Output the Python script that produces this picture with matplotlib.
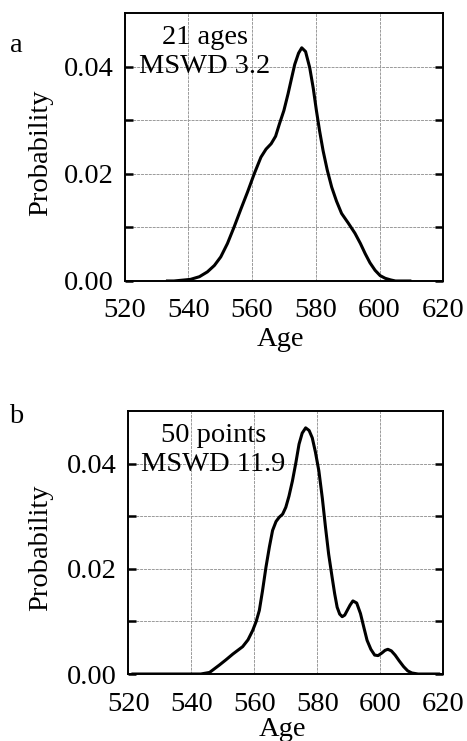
import matplotlib
matplotlib.use("Agg")
import matplotlib.pyplot as plt

plt.rcParams['font.family'] = ['Liberation Serif', 'DejaVu Serif']

# Probability-density curve, panel a (21 ages)
age_a = [533, 535.5, 540.7, 543.5, 546, 548.2, 550.2, 552.3, 554.4, 556.5, 558.6,
         560.7, 562.8, 564.4, 566, 567.4, 568.6, 570, 571.3, 572.4, 573.4, 574.6,
         575.6, 576.8, 578.1, 579.2, 580.2, 581.2, 582.3, 583.6, 585, 586.5, 588.1,
         590.2, 592.3, 594, 595.5, 597, 598.6, 600.2, 601.8, 603.5, 605, 610]
prob_a = [0.0, 0.0, 0.0003, 0.0008, 0.0017, 0.0029, 0.0045, 0.0070, 0.0101, 0.0134,
          0.0166, 0.0200, 0.0231, 0.0246, 0.0256, 0.0270, 0.0293, 0.0318, 0.0349,
          0.0378, 0.0404, 0.0425, 0.0435, 0.0428, 0.0398, 0.0360, 0.0318, 0.0280,
          0.0243, 0.0207, 0.0175, 0.0149, 0.0126, 0.0108, 0.0089, 0.0070, 0.0051,
          0.0034, 0.0020, 0.0010, 0.0005, 0.0002, 0.0, 0.0]

# Probability-density curve, panel b (50 points)
age_b = [521, 543, 545.8, 548.9, 551, 553.2, 556.3, 558, 559.5, 560.6, 561.6, 562.6,
         563.7, 564.8, 565.8, 566.9, 567.9, 569, 570, 571, 572.1, 573.2, 574.2, 575.2,
         576.3, 577.4, 578.4, 579.4, 580.5, 581.6, 582.6, 583.6, 584.7, 585.5, 586.3,
         587.1, 587.9, 588.7, 589.5, 590.4, 591.3, 592.5, 593.7, 594.8, 595.8, 597,
         598.2, 599.3, 600.5, 601.5, 602.4, 603.5, 604.7, 606, 607.4, 608.7, 610, 612,
         619]
prob_b = [0.0, 0.0, 0.0003, 0.0017, 0.0027, 0.0038, 0.0052, 0.0065, 0.0083, 0.0100,
          0.0121, 0.0158, 0.0203, 0.0242, 0.0273, 0.0290, 0.0298, 0.0304, 0.0317,
          0.0338, 0.0367, 0.0402, 0.0437, 0.0458, 0.0468, 0.0463, 0.0449, 0.0422,
          0.0386, 0.0334, 0.0279, 0.0228, 0.0184, 0.0153, 0.0127, 0.0114, 0.0109,
          0.0112, 0.0121, 0.0131, 0.0139, 0.0135, 0.0115, 0.0088, 0.0064, 0.0047,
          0.0036, 0.0035, 0.0040, 0.0045, 0.0047, 0.0044, 0.0036, 0.0025, 0.0014,
          0.0006, 0.0002, 0.0, 0.0]

x_ticks = [520, 540, 560, 580, 600, 620]
y_ticks = [0.00, 0.01, 0.02, 0.03, 0.04]
y_tick_labels = ["0.00", "", "0.02", "", "0.04"]

panels = [
    dict(rect=[0.2666, 0.6208, 0.6826, 0.3617], age=age_a, prob=prob_a,
         note="21 ages\nMSWD 3.2", note_xy=(545.1, 0.0477),
         letter="a", letter_xy=(0.034, 0.9298),
         xpad=12.5, xlabel_xy=(0.489, -0.172), ylabel_xy=(-0.2245, 0.478)),
    dict(rect=[0.2747, 0.0904, 0.6746, 0.3549], age=age_b, prob=prob_b,
         note="50 points\nMSWD 11.9", note_xy=(547.0, 0.0477),
         letter="b", letter_xy=(0.035, 0.4291),
         xpad=13.0, xlabel_xy=(0.489, -0.163), ylabel_xy=(-0.240, 0.481)),
]

fig = plt.figure(figsize=(4.67, 7.41), dpi=100)
FS = 20.5

for p in panels:
    ax = fig.add_axes(p["rect"])
    ax.plot(p["age"], p["prob"], color="black", lw=2.2, solid_joinstyle="round",
            solid_capstyle="butt", zorder=3)
    ax.set_xlim(520, 620)
    ax.set_ylim(0, 0.05)
    ax.set_xticks(x_ticks)
    ax.set_yticks(y_ticks)
    ax.set_yticklabels(y_tick_labels)
    ax.grid(True, color="#9a9a9a", lw=0.7, ls=(0, (3, 1)))
    ax.tick_params(axis="x", length=0, labelsize=FS, pad=p["xpad"])
    ax.tick_params(axis="y", direction="in", length=6, width=1.8, labelsize=FS,
                   right=True, pad=8)
    for s in ax.spines.values():
        s.set_linewidth(1.4)
    ax.set_xlabel("Age", fontsize=FS)
    ax.set_ylabel("Probability", fontsize=FS)
    ax.xaxis.set_label_coords(*p["xlabel_xy"])
    ax.yaxis.set_label_coords(*p["ylabel_xy"])
    ax.text(*p["note_xy"], p["note"], fontsize=FS, ha="center", va="top",
            linespacing=1.2, zorder=4)
    fig.text(*p["letter_xy"], p["letter"], fontsize=FS, ha="center",
             va="baseline")

fig.savefig("out.png", dpi=100)
